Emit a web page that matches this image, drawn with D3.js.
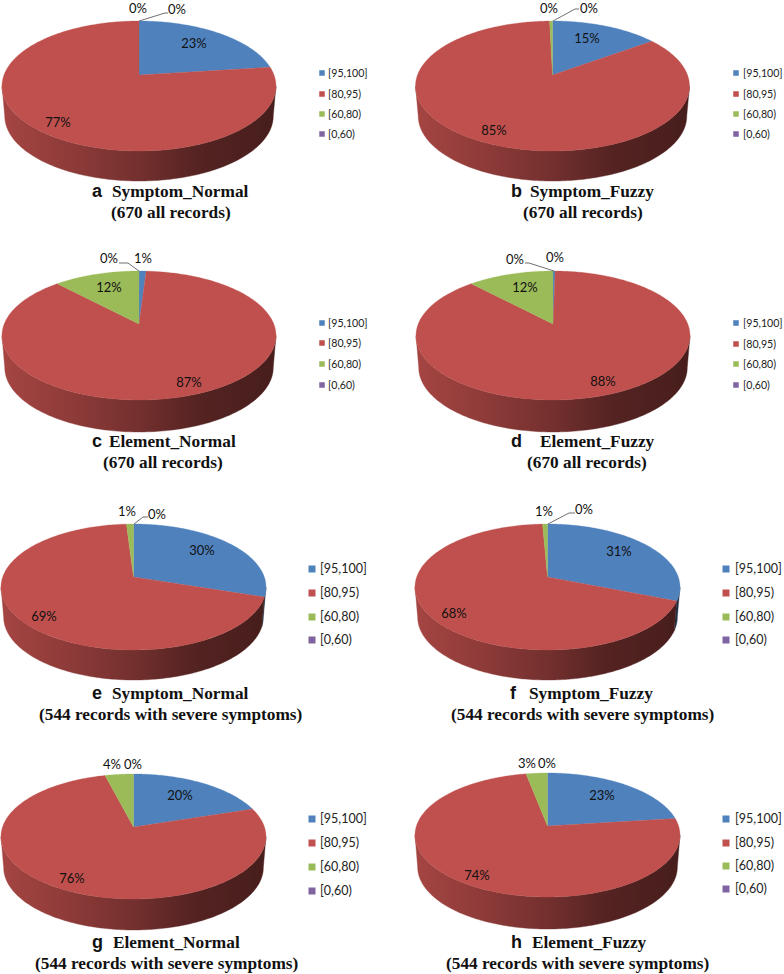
<!DOCTYPE html>
<html><head><meta charset="utf-8">
<script src="https://cdn.jsdelivr.net/npm/d3@7"></script>
<style>html,body{margin:0;padding:0;background:#fff}svg{display:block}</style>
</head><body><svg id="c" width="784" height="974"></svg>
<script>
// ---- data ----
const categories = ["[95,100]", "[80,95)", "[60,80)", "[0,60)"];
const panelLetters = ["a","b","c","d","e","f","g","h"];
const panelTitles = ["Symptom_Normal","Symptom_Fuzzy","Element_Normal","Element_Fuzzy","Symptom_Normal","Symptom_Fuzzy","Element_Normal","Element_Fuzzy"];
const panelSubtitles = ["(670 all records)","(670 all records)","(670 all records)","(670 all records)",
  "(544 records with severe symptoms)","(544 records with severe symptoms)","(544 records with severe symptoms)","(544 records with severe symptoms)"];
const valuesA = [23, 77, 0, 0];
const valuesB = [15, 84.6, 0.4, 0];
const valuesC = [1, 87, 12, 0];
const valuesD = [0.3, 87.7, 12, 0];
const valuesE = [30, 69, 1, 0];
const valuesF = [31, 68.3, 0.7, 0];
const valuesG = [20, 76, 4, 0];
const valuesH = [23, 74, 3, 0];
const allValues = [valuesA, valuesB, valuesC, valuesD, valuesE, valuesF, valuesG, valuesH];

// ---- style and layout ----
const colors = ["#4f81bd", "#c0504d", "#9bbb59", "#8064a2"];
const shadeStops = [[0,.86],[.25,.74],[.5,.60],[.72,.44],[1,.37]];
// geometry of each disc: centre x, apex y, half-width, distance to far rim, to near rim, wall height
const discs = [
  {cx:139,  ay:75,  R:137,   far:54, near:76, wall:30},
  {cx:552.5,ay:75,  R:137,   far:54, near:76, wall:30},
  {cx:139,  ay:324, R:137,   far:53, near:76, wall:32},
  {cx:553,  ay:324, R:137,   far:53, near:76, wall:32},
  {cx:133.5,ay:577, R:132.5, far:53, near:73, wall:30},
  {cx:547.5,ay:577, R:132.5, far:53, near:73, wall:30},
  {cx:133.5,ay:827, R:132.5, far:53, near:72, wall:31},
  {cx:547.5,ay:826, R:132.5, far:53, near:71, wall:32}
];
// label centres per panel, in category order
const labelSpots = [
  [[194,43],[58,122],[138,8],[177,9]],
  [[587,38],[494,130],[549,8],[589,8]],
  [[143,258],[189,382],[109,287],[109,258]],
  [[555,257],[603,381],[525,287],[515,259]],
  [[202,550],[44,616],[127,511],[157,514]],
  [[619,551],[454,613],[544,511],[584,509]],
  [[180,795],[72,878],[112,764],[133,764]],
  [[602,795],[477,875],[527,763],[547,763]]
];
const leaders = [
  [[139,21],[165,13],[168,13]],
  [[553,21],[575,9],[579,9]],
  [[139,271],[128,263],[119,263]],
  [[554,271],[529,263],[525,263]],
  [[134,524],[143,517],[148,517]],
  [[548,524],[569,513],[575,513]],
  null, null
];
const legends = [
  {x:322,tx:328,ys:[73,94,114,134],s:5.5,f:10.6},
  {x:736,tx:743,ys:[73,94,114,134],s:5.5,f:10.6},
  {x:322,tx:328,ys:[323,343,364,385],s:5.5,f:10.6},
  {x:736,tx:743,ys:[323,344,364,385],s:5.5,f:10.6},
  {x:312,tx:320,ys:[569,593,617,640],s:7,f:12.5},
  {x:726,tx:735,ys:[569,593,617,640],s:7,f:12.5},
  {x:312,tx:320,ys:[819,843,867,891],s:7,f:12.5},
  {x:726,tx:735,ys:[819,843,866,889],s:7,f:12.5}
];
const captions = [
  {lx:92, tx:112,sx:111,y1:197,y2:218},
  {lx:511,tx:530,sx:523,y1:197,y2:218},
  {lx:92, tx:109,sx:103,y1:447,y2:468},
  {lx:511,tx:540,sx:527,y1:447,y2:468},
  {lx:92, tx:112,sx:39, y1:699,y2:720},
  {lx:510,tx:529,sx:451,y1:699,y2:720},
  {lx:92, tx:113,sx:35, y1:948,y2:969},
  {lx:511,tx:532,sx:446,y1:948,y2:969}
];

// ---- drawing ----
const svg = d3.select("#c");
const defs = svg.append("defs");
const pie = d3.pie().sort(null).startAngle(0).endAngle(2*Math.PI);
const line = d3.line().x(d=>d[0]).y(d=>d[1]);
const STEP = Math.PI/180;

function angleRange(a0,a1){
  const n = Math.max(1,Math.ceil((a1-a0)/STEP));
  return d3.range(n+1).map(i=>a0+(a1-a0)*i/n);
}

allValues.forEach((vals,pi)=>{
  const D = discs[pi];
  const p = (D.near-D.far)/(D.near+D.far);
  const k = D.far*(1+p);
  const rx = D.R*Math.sqrt(1-p*p);
  const project = a=>{
    const u=Math.sin(a), v=-Math.cos(a), w=1-p*v;
    return [D.cx+rx*u/w, D.ay+k*v/w];
  };
  const lower = q=>[D.cx+(q[0]-D.cx)*0.98, q[1]+D.wall];
  const g = svg.append("g").attr("class","panel");
  const arcs = pie(vals);
  const marks = g.append("g").style("filter","blur(0.35px)");

  // wall gradients, one for each series colour
  colors.forEach((c,ci)=>{
    const grad = defs.append("linearGradient").attr("id",`wall${pi}-${ci}`)
      .attr("gradientUnits","userSpaceOnUse")
      .attr("x1",D.cx-D.R).attr("x2",D.cx+D.R).attr("y1",0).attr("y2",0);
    shadeStops.forEach(([o,s])=>{
      const base=d3.rgb(c);
      grad.append("stop").attr("offset",o).attr("stop-color",
        d3.rgb(base.r*s,base.g*s,base.b*s).formatHex());
    });
  });

  // walls: only the front part of the rim is visible
  const frontStart = Math.acos(-p), frontEnd = 2*Math.PI-frontStart;
  arcs.forEach((d,i)=>{
    const a0=Math.max(d.startAngle,frontStart), a1=Math.min(d.endAngle,frontEnd);
    if(a1<=a0) return;
    const rim=angleRange(a0,a1).map(project);
    const poly=rim.concat(rim.slice().reverse().map(lower));
    marks.append("path").attr("d",line(poly)+"Z")
      .attr("fill",`url(#wall${pi}-${i})`)
      .attr("stroke",`url(#wall${pi}-${i})`).attr("stroke-width",.4);
  });

  // top surface
  arcs.forEach((d,i)=>{
    if(d.endAngle-d.startAngle<=0) return;
    const poly=[[D.cx,D.ay]].concat(angleRange(d.startAngle,d.endAngle).map(project));
    marks.append("path").attr("d",line(poly)+"Z")
      .attr("fill",colors[i]).attr("stroke",colors[i]).attr("stroke-width",.3);
  });

  // leader
  if(leaders[pi]) marks.append("path").attr("d",line(leaders[pi]))
    .attr("fill","none").attr("stroke","#6f6f6f").attr("stroke-width",1);

  // value labels
  g.selectAll("text.val").data(vals).join("text").attr("class","val")
    .attr("x",(d,i)=>labelSpots[pi][i][0]).attr("y",(d,i)=>labelSpots[pi][i][1])
    .attr("dy",".36em").attr("text-anchor","middle")
    .style("font","13px Lato").attr("fill","#111")
    .text(d=>Math.round(d)+"%");

  // legend
  const L=legends[pi];
  categories.forEach((c,i)=>{
    g.append("rect").attr("x",L.x-L.s/2).attr("y",L.ys[i]-L.s/2).attr("width",L.s).attr("height",L.s)
      .attr("fill",colors[i]);
    g.append("text").attr("x",L.tx).attr("y",L.ys[i]).attr("dy",".35em")
      .style("font",`${L.f}px Lato`).attr("fill","#222").text(c);
  });

  // caption
  const C=captions[pi];
  g.append("text").attr("x",C.lx).attr("y",C.y1).style("font","bold 18px 'Liberation Sans'").attr("fill","#111").text(panelLetters[pi]);
  g.append("text").attr("x",C.tx).attr("y",C.y1).style("font","bold 17.3px 'Liberation Serif'").attr("fill","#111").text(panelTitles[pi]);
  g.append("text").attr("x",C.sx).attr("y",C.y2).style("font","bold 17.3px 'Liberation Serif'").attr("fill","#111").text(panelSubtitles[pi]);
});
</script></body></html>
